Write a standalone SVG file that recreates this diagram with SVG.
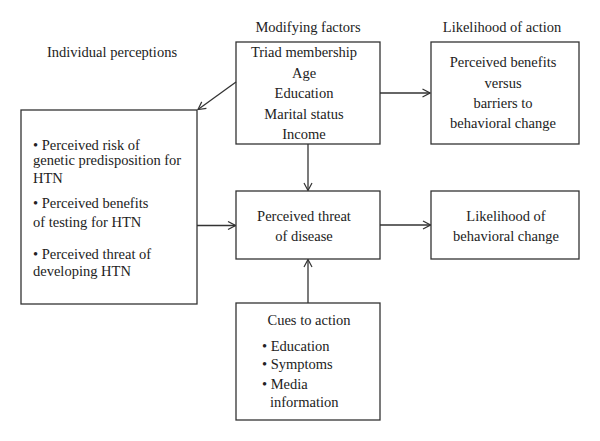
<svg xmlns="http://www.w3.org/2000/svg" width="600" height="441" viewBox="0 0 600 441">
<defs>
<style>
text{font-family:"Liberation Serif","Times New Roman",serif;font-size:14.5px;fill:#222}
.c{text-anchor:middle}
.box{fill:#fff;stroke:#333;stroke-width:1.3}
.ln{fill:none;stroke:#333;stroke-width:1.3}
</style>
<marker id="ah" viewBox="0 0 10 10" refX="9.5" refY="5" markerWidth="10" markerHeight="10" markerUnits="userSpaceOnUse" orient="auto">
<path d="M2,1 L9.5,5 L2,9" fill="none" stroke="#333" stroke-width="1.2"/>
</marker>
</defs>
<rect width="600" height="441" fill="#fff"/>
<g id="headers">
<text class="c" x="112" y="57">Individual perceptions</text>
<text class="c" x="308" y="32">Modifying factors</text>
<text class="c" x="502" y="32">Likelihood of action</text>
</g>
<g id="modifying">
<rect class="box" x="236" y="42" width="144" height="102"/>
<text class="c" x="304" y="57">Triad membership</text>
<text class="c" x="304" y="77.5">Age</text>
<text class="c" x="304" y="98">Education</text>
<text class="c" x="304" y="118.5">Marital status</text>
<text class="c" x="304" y="139">Income</text>
</g>
<g id="action">
<rect class="box" x="431" y="42" width="148" height="102"/>
<text class="c" x="503" y="67">Perceived benefits</text>
<text class="c" x="503" y="88">versus</text>
<text class="c" x="503" y="108">barriers to</text>
<text class="c" x="503" y="128">behavioral change</text>
</g>
<g id="individual">
<rect class="box" x="21" y="110" width="176" height="194"/>
<text x="33" y="150">• Perceived risk of</text>
<text x="33" y="165">genetic predisposition for</text>
<text x="33" y="183">HTN</text>
<text x="33" y="208">• Perceived benefits</text>
<text x="33" y="227">of testing for HTN</text>
<text x="33" y="259">• Perceived threat of</text>
<text x="33" y="276">developing HTN</text>
</g>
<g id="threat">
<rect class="box" x="236" y="191" width="144" height="68"/>
<text class="c" x="304" y="220.5">Perceived threat</text>
<text class="c" x="304" y="240.5">of disease</text>
</g>
<g id="behavior">
<rect class="box" x="431" y="191" width="148" height="68"/>
<text class="c" x="506" y="220.5">Likelihood of</text>
<text class="c" x="506" y="240.5">behavioral change</text>
</g>
<g id="cues">
<rect class="box" x="236" y="303" width="144" height="117"/>
<text class="c" x="309" y="325">Cues to action</text>
<text x="262" y="350.5">• Education</text>
<text x="262" y="369">• Symptoms</text>
<text x="262" y="389">• Media</text>
<text x="270" y="406.5">information</text>
</g>
<g id="connectors">
<line class="ln" x1="236" y1="82" x2="198" y2="109.5" marker-end="url(#ah)"/>
<line class="ln" x1="380" y1="93" x2="430" y2="93" marker-end="url(#ah)"/>
<line class="ln" x1="308" y1="144" x2="308" y2="190.5" marker-end="url(#ah)"/>
<line class="ln" x1="197" y1="225.5" x2="235.5" y2="225.5" marker-end="url(#ah)"/>
<line class="ln" x1="380" y1="225" x2="430.5" y2="225" marker-end="url(#ah)"/>
<line class="ln" x1="308" y1="303" x2="308" y2="259.5" marker-end="url(#ah)"/>
</g>
</svg>
